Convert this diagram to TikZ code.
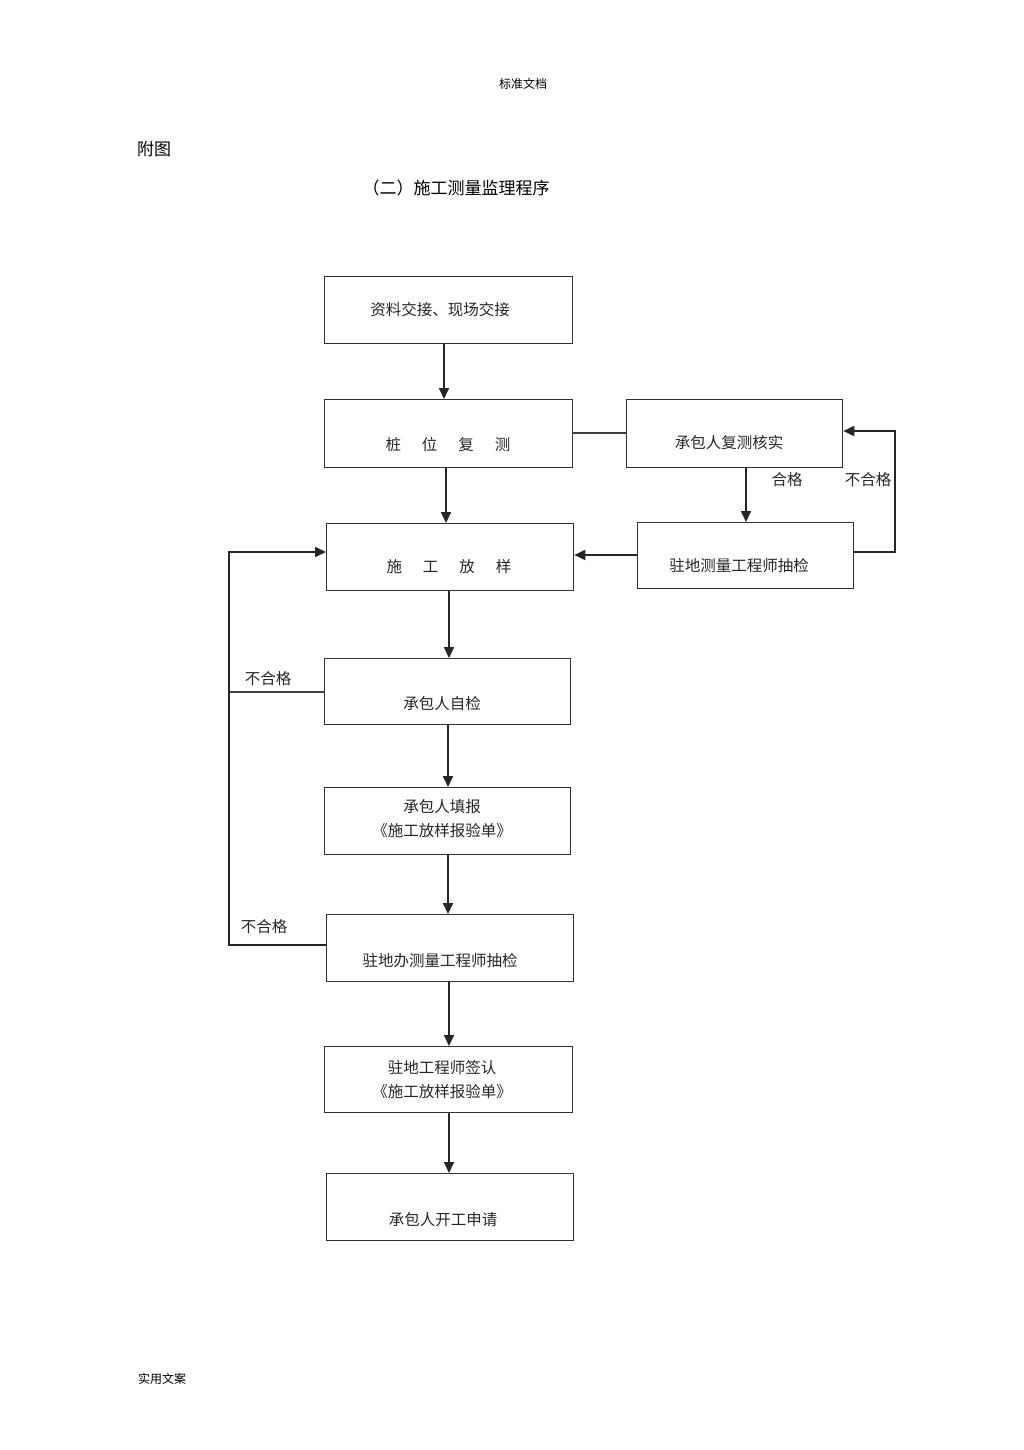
\documentclass[tikz,border=0pt]{standalone}
\usepackage{fontspec}
\setmainfont{Noto Sans CJK SC}
\usetikzlibrary{arrows.meta}
\begin{document}
\begin{tikzpicture}[x=1pt,y=-1pt,
  box/.style={draw=black!80,line width=1.3pt,rectangle,inner sep=0pt,anchor=north west},
  txt/.style={font=\fontsize{15.5}{24}\selectfont,text=black!85,align=center,inner sep=0pt},
  lbl/.style={font=\fontsize{15.5}{18}\selectfont,text=black!85,inner sep=0pt},
  arr/.style={draw=black!85,line width=1.8pt,-{Triangle[length=11pt,width=10pt]}},
  ln/.style={draw=black!75,line width=1.2pt}]
\useasboundingbox (0,0) rectangle (1024,1450);
% header texts
\node[font=\fontsize{12}{14}\selectfont,inner sep=0pt] (hdr) at (523,84) {标准文档};
\node[font=\fontsize{17}{20}\selectfont,inner sep=0pt] (fig) at (154,149) {附图};
\node[font=\fontsize{17}{20}\selectfont,inner sep=0pt] (ttl) at (456,188) {（二）施工测量监理程序};
\node[font=\fontsize{12}{14}\selectfont,inner sep=0pt] (ftr) at (162,1379) {实用文案};
% boxes
\node[box,minimum width=248pt,minimum height=67pt] (b1) at (324,276) {};
\node[box,minimum width=248pt,minimum height=68pt] (b2) at (324,399) {};
\node[box,minimum width=216pt,minimum height=68pt] (b3) at (626,399) {};
\node[box,minimum width=216pt,minimum height=66pt] (b4) at (637,522) {};
\node[box,minimum width=247pt,minimum height=67pt] (b5) at (326,523) {};
\node[box,minimum width=246pt,minimum height=66pt] (b6) at (324,658) {};
\node[box,minimum width=246pt,minimum height=67pt] (b7) at (324,787) {};
\node[box,minimum width=247pt,minimum height=67pt] (b8) at (326,914) {};
\node[box,minimum width=248pt,minimum height=66pt] (b9) at (324,1046) {};
\node[box,minimum width=247pt,minimum height=67pt] (b10) at (326,1173) {};
% texts
\node[txt] (t1) at (440,310) {资料交接、现场交接};
\node[txt] (t2) at (448,445) {桩\hspace{21pt}位\hspace{21pt}复\hspace{21pt}测};
\node[txt] (t3) at (729,443) {承包人复测核实};
\node[txt] (t4) at (739,566) {驻地测量工程师抽检};
\node[txt] (t5) at (449,567) {施\hspace{21pt}工\hspace{21pt}放\hspace{21pt}样};
\node[txt] (t6) at (442,704) {承包人自检};
\node[txt] (t7) at (442,819) {承包人填报\\《施工放样报验单》};
\node[txt] (t8) at (440,961) {驻地办测量工程师抽检};
\node[txt] (t9) at (442,1080) {驻地工程师签认\\《施工放样报验单》};
\node[txt] (t10) at (443,1220) {承包人开工申请};
% main vertical arrows
\draw[arr] (b1.south -| 444,0) -- (b2.north -| 444,0);
\draw[arr] (b2.south -| 446,0) -- (b5.north -| 446,0);
\draw[arr] (b5.south -| 449,0) -- (b6.north -| 449,0);
\draw[arr] (b6.south -| 448,0) -- (b7.north -| 448,0);
\draw[arr] (b7.south -| 448,0) -- (b8.north -| 448,0);
\draw[arr] (b8.south -| 449,0) -- (b9.north -| 449,0);
\draw[arr] (b9.south -| 449,0) -- (b10.north -| 449,0);
% right loop
\draw[ln] (b2.east |- 0,433) -- (b3.west |- 0,433);
\draw[arr] (b3.south -| 746,0) -- (b4.north -| 746,0);
\node[lbl] (hg) at (787,480) {合格};
\coordinate (r1) at (895,552);
\coordinate (r2) at (895,431);
\draw[arr] (b4.east |- r1) -- (r1) -- (r2) -- (b3.east |- r2);
\node[lbl] (bhg1) at (868,480) {不合格};
\draw[arr] (b4.west |- 0,555) -- (b5.east |- 0,555);
% left loop
\coordinate (l1) at (229,692);
\coordinate (l2) at (229,945);
\coordinate (l3) at (229,552);
\draw[ln] (b6.west |- l1) -- (l1);
\draw[arr] (b8.west |- l2) -- (l2) -- (l3) -- (b5.west |- l3);
\node[lbl] (bhg2) at (268,679) {不合格};
\node[lbl] (bhg3) at (264,927) {不合格};
\end{tikzpicture}
\end{document}
